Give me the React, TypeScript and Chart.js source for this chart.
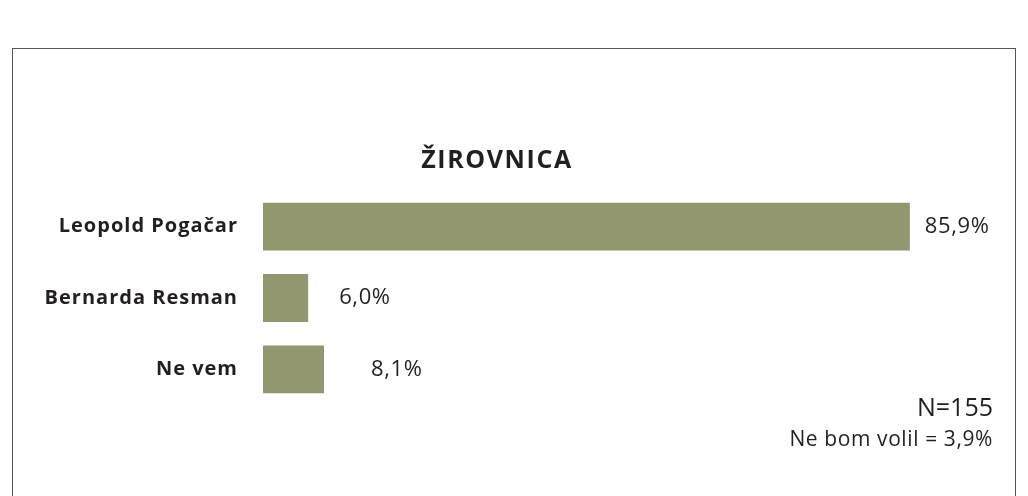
import React, { useEffect, useRef } from "react";
import { Chart, registerables } from "chart.js";

Chart.register(...registerables);

const categories = ["Leopold Pogačar", "Bernarda Resman", "Ne vem"];
const values = [85.9, 6.0, 8.1];
const valueLabels = ["85,9%", "6,0%", "8,1%"];
const titleText = "ŽIROVNICA";
const sampleText = "N=155";
const noteText = "Ne bom volil = 3,9%";

const labelOffsets = [15, 31, 47];
const BAR_COLOR = "#929770";
const TEXT_COLOR = "#231f20";
const FONT = "'Open Sans', sans-serif";

export default function App() {
  const ref = useRef<HTMLCanvasElement | null>(null);

  useEffect(() => {
    if (!ref.current) return;
    const spacingPlugin = {
      id: "spacing",
      beforeDraw(chart: any) {
        chart.ctx.letterSpacing = "1px";
      },
    };
    const textPlugin = {
      id: "texts",
      afterDatasetsDraw(chart: any) {
        const ctx = chart.ctx;
        const meta = chart.getDatasetMeta(0);
        ctx.save();
        ctx.fillStyle = TEXT_COLOR;
        ctx.letterSpacing = "0.6px";
        ctx.font = `400 22px ${FONT}`;
        ctx.textBaseline = "middle";
        ctx.textAlign = "left";
        meta.data.forEach((el: any, i: number) => {
          ctx.fillText(valueLabels[i], el.x + labelOffsets[i], el.y);
        });
        ctx.letterSpacing = "1.6px";
        ctx.font = `700 25px ${FONT}`;
        ctx.textAlign = "center";
        ctx.fillText(titleText, 497, 161);
        ctx.textAlign = "right";
        ctx.letterSpacing = "0px";
        ctx.font = `400 25px ${FONT}`;
        ctx.fillText(sampleText, 993, 409);
        ctx.letterSpacing = "0.6px";
        ctx.font = `400 21px ${FONT}`;
        ctx.fillText(noteText, 993, 440);
        ctx.restore();
      },
    };

    const chart = new Chart(ref.current, {
      type: "bar",
      data: {
        labels: categories,
        datasets: [
          {
            data: values,
            backgroundColor: BAR_COLOR,
            borderWidth: 0,
            barPercentage: 0.67,
            categoryPercentage: 1,
          },
        ],
      },
      options: {
        indexAxis: "y",
        animation: false,
        responsive: false,
        maintainAspectRatio: false,
        layout: { padding: { top: 191, bottom: 91, right: 12, left: 0 } },
        plugins: {
          legend: { display: false },
          tooltip: { enabled: false },
          title: { display: false },
        },
        scales: {
          x: { display: false, min: 0, max: 100 },
          y: {
            grid: { display: false, drawTicks: false },
            border: { display: false },
            ticks: {
              color: TEXT_COLOR,
              padding: 25,
              font: { family: FONT, size: 20, weight: "bold" },
            },
            afterFit(scale: any) {
              scale.width = 263;
            },
          },
        },
      },
      plugins: [spacingPlugin, textPlugin],
    });
    return () => chart.destroy();
  }, []);

  return (
    <div style={{ position: "fixed", left: 0, top: 0, width: 1028, height: 496, background: "#fff", overflow: "hidden" }}>
      <div
        style={{
          position: "absolute",
          left: 12,
          top: 48,
          width: 1004,
          height: 500,
          border: "1.5px solid #555",
          boxSizing: "border-box",
        }}
      />
      <canvas ref={ref} width={1028} height={496} style={{ position: "absolute", left: 0, top: 0 }} />
    </div>
  );
}
